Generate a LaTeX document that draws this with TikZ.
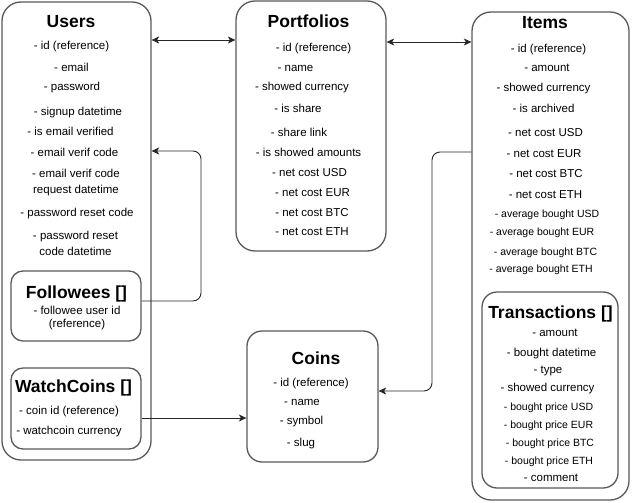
\documentclass[tikz,border=0pt]{standalone}
\usepackage{fontspec}
\setmainfont{Liberation Sans}
\usetikzlibrary{arrows.meta}
\tikzset{
  box/.style={draw=black!65, line width=1.3pt, rounded corners=19pt, inner sep=0pt},
  sbox/.style={box, rounded corners=12pt},
  ttl/.style={font=\bfseries\fontsize{17.5}{20}\selectfont, anchor=base, inner sep=0pt},
  fld/.style={font=\fontsize{11.5}{14}\selectfont, anchor=base, inner sep=0pt},
  sfld/.style={font=\fontsize{10.5}{13}\selectfont, anchor=base, inner sep=0pt},
  mfld/.style={font=\fontsize{11.5}{16}\selectfont, anchor=center, inner sep=0pt, align=center},
  lnk/.style={draw=black!85, line width=0.9pt},
  >={Stealth[length=7.5pt,width=7pt,inset=2pt]},
}
\begin{document}
\begin{tikzpicture}[x=1pt,y=-1pt]
\useasboundingbox (0,0) rectangle (632,503);
% boxes
\node[box, minimum width=149pt, minimum height=458pt] (users) at (76.5,231) {};
\node[sbox, minimum width=130pt, minimum height=70pt] (followees) at (76,306) {};
\node[sbox, minimum width=130pt, minimum height=81pt] (watchcoins) at (76,408.5) {};
\node[box, minimum width=150pt, minimum height=250pt] (portfolios) at (311,126) {};
\node[box, rounded corners=15pt, minimum width=131pt, minimum height=131pt] (coins) at (312.5,396.5) {};
\node[box, minimum width=157pt, minimum height=488pt] (items) at (550.5,256) {};
\node[box, rounded corners=15pt, minimum width=136pt, minimum height=196pt] (transactions) at (550,390) {};
% Users
\node[ttl] (tUsers) at (71,28) {Users};
\node[fld] (u1) at (71.5,50) {- id (reference)};
\node[fld] (u2) at (71.5,71) {- email};
\node[fld] (u3) at (72,91) {- password};
\node[fld] (u4) at (78,115) {- signup datetime};
\node[fld] (u5) at (70.5,135) {- is email verified};
\node[fld] (u6) at (74.5,156) {- email verif code};
\node[mfld] (u7) at (76,183) {- email verif code\\request datetime};
\node[fld] (u8) at (77,216) {- password reset code};
\node[mfld] (u9) at (75.5,243) {- password reset\\code datetime};
% Followees
\node[ttl] (tFollowees) at (76.5,298) {Followees []};
\node[mfld, font=\fontsize{11.5}{13}\selectfont] (f1) at (77,318.5) {- followee user id\\(reference)};
% WatchCoins
\node[ttl] (tWatch) at (73.5,392) {WatchCoins []};
\node[fld] (w1) at (69,414) {- coin id (reference)};
\node[fld] (w2) at (69,434) {- watchcoin currency};
% Portfolios
\node[ttl] (tPort) at (308.5,28) {Portfolios};
\node[fld] (p1) at (313.5,52) {- id (reference)};
\node[fld] (p2) at (295.5,71) {- name};
\node[fld] (p3) at (302,91) {- showed currency};
\node[fld] (p4) at (298,113) {- is share};
\node[fld] (p5) at (299,136) {- share link};
\node[fld] (p6) at (308.5,156) {- is showed amounts};
\node[fld] (p7) at (309.5,176) {- net cost USD};
\node[fld] (p8) at (312.5,196) {- net cost EUR};
\node[fld] (p9) at (312,216) {- net cost BTC};
\node[fld] (p10) at (312,235) {- net cost ETH};
% Coins
\node[ttl] (tCoins) at (316,364) {Coins};
\node[fld] (c1) at (311,386) {- id (reference)};
\node[fld] (c2) at (302,405) {- name};
\node[fld] (c3) at (301.5,424) {- symbol};
\node[fld] (c4) at (301,446) {- slug};
% Items
\node[ttl] (tItems) at (545,29) {Items};
\node[fld] (i1) at (548.5,53) {- id (reference)};
\node[fld] (i2) at (547,72) {- amount};
\node[fld] (i3) at (543.5,92) {- showed currency};
\node[fld] (i4) at (543.5,113) {- is archived};
\node[fld] (i5) at (545.5,136) {- net cost USD};
\node[fld] (i6) at (544,157) {- net cost EUR};
\node[fld] (i7) at (546,177) {- net cost BTC};
\node[fld] (i8) at (545.5,198) {- net cost ETH};
\node[sfld] (i9) at (547,217) {- average bought USD};
\node[sfld] (i10) at (542,235) {- average bought EUR};
\node[sfld] (i11) at (545.5,255) {- average bought BTC};
\node[sfld] (i12) at (541,272) {- average bought ETH};
% Transactions
\node[ttl] (tTrans) at (550.5,318) {Transactions []};
\node[fld] (t1) at (555,336) {- amount};
\node[fld] (t2) at (551.5,356) {- bought datetime};
\node[fld] (t3) at (548,373) {- type};
\node[fld] (t4) at (547.5,391) {- showed currency};
\node[sfld] (t5) at (548.5,410) {- bought price USD};
\node[sfld] (t6) at (548.5,428) {- bought price EUR};
\node[sfld] (t7) at (550,446) {- bought price BTC};
\node[sfld] (t8) at (549,464) {- bought price ETH};
\node[fld] (t9) at (551,481) {- comment};
% connectors
\coordinate (r1) at (0,40);
\coordinate (r2) at (0,42);
\coordinate (fb) at (201,301);
\coordinate (ft) at (201,151);
\coordinate (wc) at (0,418);
\coordinate (it) at (432,152);
\coordinate (ib) at (432,391);
\draw[lnk, <->] (users.east |- r1) -- (portfolios.west |- r1);
\draw[lnk, <->] (portfolios.east |- r2) -- (items.west |- r2);
\draw[lnk, ->, rounded corners=8pt] (followees.east |- fb) -- (fb) -- (ft) -- (users.east |- ft);
\draw[lnk, ->] (watchcoins.east |- wc) -- (coins.west |- wc);
\draw[lnk, ->, rounded corners=8pt] (items.west |- it) -- (it) -- (ib) -- (coins.east |- ib);
\end{tikzpicture}
\end{document}
